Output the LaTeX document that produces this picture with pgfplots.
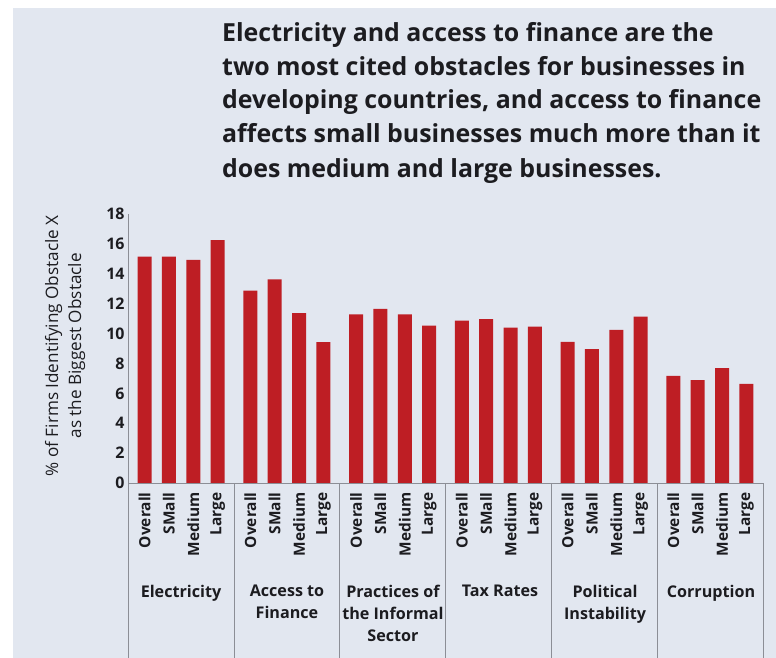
\documentclass[border=0pt]{standalone}
\usepackage{pgfplots}
\pgfplotsset{compat=1.18}
\usepackage{fontspec}
\setmainfont{Open Sans}
\definecolor{bg}{RGB}{226,231,240}
\definecolor{barred}{RGB}{190,30,36}
\definecolor{axgray}{RGB}{140,142,150}
\definecolor{txt}{RGB}{28,28,32}
\begin{document}
\begin{tikzpicture}
\useasboundingbox (0,0) rectangle (776bp,658bp);
\fill[white] (0,0) rectangle (776bp,658bp);
\fill[bg] (13bp,0) rectangle (776bp,650bp);
% title
\begin{scope}[every node/.style={anchor=base west, inner sep=0, text=txt, font=\bfseries\fontsize{25}{30}\selectfont}]
\node at (222bp,616bp) {Electricity and access to finance are the};
\node at (222bp,582.5bp) {two most cited obstacles for businesses in};
\node at (222bp,549bp) {developing countries, and access to finance};
\node at (222bp,515bp) {affects small businesses much more than it};
\node at (222bp,480.5bp) {does medium and large businesses.};
\end{scope}
\begin{axis}[
  at={(128bp,175bp)}, anchor=south west,
  scale only axis, width=635bp, height=269bp,
  xmin=-0.68, xmax=25.38, ymin=0, ymax=18,
  axis x line*=bottom, axis y line*=left,
  axis line style={draw=axgray, -},
  major tick length=0pt,
  ytick={0,2,...,18},
  /pgf/number format/assume math mode=true,
  yticklabel style={font=\bfseries\fontsize{16}{16}\selectfont, text=txt},
  xtick={0,1,2,3, 4.34,5.34,6.34,7.34, 8.68,9.68,10.68,11.68, 13.02,14.02,15.02,16.02, 17.36,18.36,19.36,20.36, 21.70,22.70,23.70,24.70},
  xticklabels={Overall,SMall,Medium,Large, Overall,SMall,Medium,Large, Overall,SMall,Medium,Large, Overall,SMall,Medium,Large, Overall,SMall,Medium,Large, Overall,SMall,Medium,Large},
  xticklabel style={rotate=90, anchor=east, font=\bfseries\fontsize{15.5}{15.5}\selectfont, text=txt},
  xticklabel shift=6bp,
  extra x ticks={-0.68,3.67,8.01,12.35,16.69,21.03,25.38},
  extra x tick labels={},
  extra x tick style={major tick length=175bp, tick align=outside, tick style={draw=axgray, line width=0.8pt}},
  ylabel={\% of Firms Identifying Obstacle X\\as the Biggest Obstacle},
  ylabel style={at={(axis description cs:-0.099,0.51)}, anchor=center, align=center, font=\fontsize{17.2}{23}\selectfont, text=txt},
]
\addplot[ybar, bar width=14bp, fill=barred, draw=none] coordinates {
 (0,15.15) (1,15.15) (2,14.93) (3,16.26)
 (4.34,12.87) (5.34,13.63) (6.34,11.36) (7.34,9.42)
 (8.68,11.29) (9.68,11.65) (10.68,11.29) (11.68,10.53)
 (13.02,10.87) (14.02,10.96) (15.02,10.40) (16.02,10.46)
 (17.36,9.44) (18.36,8.95) (19.36,10.24) (20.36,11.13)
 (21.70,7.16) (22.70,6.89) (23.70,7.68) (24.70,6.63)
};
\end{axis}
% group labels
\begin{scope}[every node/.style={anchor=north, align=center, inner sep=0, text=txt, font=\bfseries\fontsize{16.2}{22}\selectfont}]
\node at (181bp,73bp) {Electricity};
\node at (287bp,73bp) {Access to\\Finance};
\node at (393bp,73bp) {Practices of\\the Informal\\Sector};
\node at (500bp,73bp) {Tax Rates};
\node at (605bp,73bp) {Political\\Instability};
\node at (711bp,73bp) {Corruption};
\end{scope}
\end{tikzpicture}
\end{document}
